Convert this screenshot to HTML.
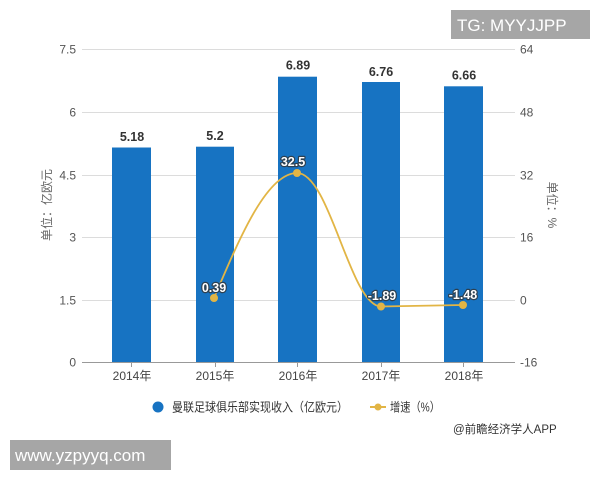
<!DOCTYPE html>
<html><head><meta charset="utf-8"><style>
html,body{margin:0;padding:0;background:#fff;}
svg{display:block;}
text{font-family:"Liberation Sans","Noto Sans CJK SC",sans-serif;}
</style></head><body>
<svg width="600" height="480" viewBox="0 0 600 480" xmlns="http://www.w3.org/2000/svg">
<rect width="600" height="480" fill="#fff"/>
<!-- gridlines -->
<g stroke="#dcdcdc" stroke-width="1">
<line x1="82" y1="49.5" x2="515" y2="49.5"/>
<line x1="82" y1="112.5" x2="515" y2="112.5"/>
<line x1="82" y1="175.5" x2="515" y2="175.5"/>
<line x1="82" y1="237.5" x2="515" y2="237.5"/>
<line x1="82" y1="300.5" x2="515" y2="300.5"/>
</g>
<!-- bars -->
<g fill="#1773c2">
<rect x="112" y="147.5" width="39" height="214.5"/>
<rect x="196" y="146.7" width="38" height="215.3"/>
<rect x="278" y="76.7" width="39" height="285.3"/>
<rect x="362" y="82" width="38" height="280"/>
<rect x="444" y="86.3" width="39" height="275.7"/>
</g>
<!-- x axis -->
<line x1="82" y1="362.5" x2="515" y2="362.5" stroke="#999" stroke-width="1"/>
<g stroke="#999" stroke-width="1">
<line x1="131.5" y1="362" x2="131.5" y2="367"/>
<line x1="215.5" y1="362" x2="215.5" y2="367"/>
<line x1="297.5" y1="362" x2="297.5" y2="367"/>
<line x1="381.5" y1="362" x2="381.5" y2="367"/>
<line x1="463.5" y1="362" x2="463.5" y2="367"/>
</g>
<g font-size="12" fill="#444" text-anchor="middle">
<text x="132" y="380">2014年</text>
<text x="215" y="380">2015年</text>
<text x="298" y="380">2016年</text>
<text x="381" y="380">2017年</text>
<text x="464" y="380">2018年</text>
</g>
<!-- left ticks -->
<g font-size="12" fill="#555" text-anchor="end">
<text x="76" y="53.5">7.5</text>
<text x="76" y="116.5">6</text>
<text x="76" y="179.5">4.5</text>
<text x="76" y="241.5">3</text>
<text x="76" y="304.5">1.5</text>
<text x="76" y="366.5">0</text>
</g>
<g font-size="12" fill="#555" text-anchor="start">
<text x="520" y="53.5">64</text>
<text x="520" y="116.5">48</text>
<text x="520" y="179.5">32</text>
<text x="520" y="241.5">16</text>
<text x="520" y="304.5">0</text>
<text x="520" y="366.5">-16</text>
</g>
<text transform="translate(51,205) rotate(-90)" font-size="12" fill="#666" text-anchor="middle">单位：亿欧元</text>
<text transform="translate(548,205) rotate(90)" font-size="12" fill="#666" text-anchor="middle">单位：%</text>
<!-- bar labels -->
<g font-size="12.5" font-weight="bold" fill="#333" text-anchor="middle">
<text x="132" y="141">5.18</text>
<text x="215" y="140">5.2</text>
<text x="298" y="69.5">6.89</text>
<text x="381" y="76">6.76</text>
<text x="464" y="79.5">6.66</text>
</g>
<!-- line -->
<path d="M214,298 C238,242 266,173 297,173 C330,173 350,306 381,306.5 L463,305" fill="none" stroke="#e2b545" stroke-width="1.8"/>
<g fill="#e2b545">
<circle cx="214" cy="298" r="4"/>
<circle cx="297" cy="173" r="4"/>
<circle cx="381" cy="306.5" r="4"/>
<circle cx="463" cy="305" r="4"/>
</g>
<g font-size="12.5" font-weight="bold" fill="#fff" stroke="#2d4050" stroke-width="2.4" paint-order="stroke" stroke-linejoin="round" text-anchor="middle">
<text x="214" y="292">0.39</text>
<text x="293" y="166">32.5</text>
<text x="382" y="300">-1.89</text>
<text x="463" y="299">-1.48</text>
</g>
<!-- legend -->
<circle cx="158" cy="407" r="5.5" fill="#1773c2"/>
<text x="172" y="411.5" font-size="12.5" fill="#333" textLength="176" lengthAdjust="spacingAndGlyphs">曼联足球俱乐部实现收入（亿欧元）</text>
<line x1="370" y1="407" x2="386" y2="407" stroke="#e2b545" stroke-width="2"/>
<circle cx="378" cy="407" r="3.5" fill="#e2b545"/>
<text x="390" y="411.5" font-size="12.5" fill="#333" textLength="50" lengthAdjust="spacingAndGlyphs">增速（%）</text>
<text x="453" y="433" font-size="11.5" fill="#333">@前瞻经济学人APP</text>
<!-- watermark boxes -->
<rect x="451" y="10" width="139" height="29" fill="#a6a6a6"/>
<text x="457" y="31" font-size="17" fill="#fff">TG: MYYJJPP</text>
<rect x="10" y="440" width="161" height="30" fill="#a6a6a6"/>
<text x="15" y="461" font-size="17" fill="#fff">www.yzpyyq.com</text>
</svg>
</body></html>
